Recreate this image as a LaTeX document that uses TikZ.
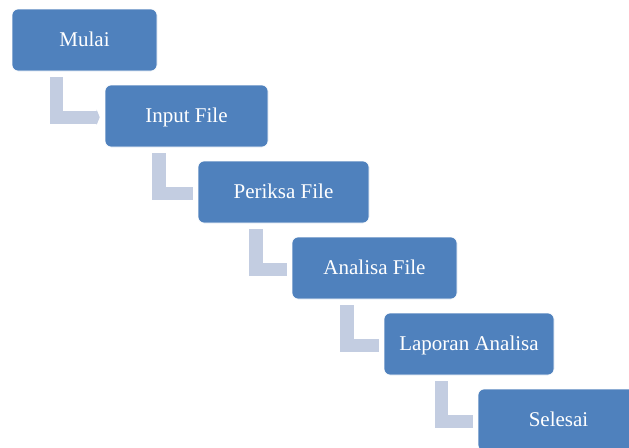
\documentclass[tikz,border=0pt]{standalone}
\usepackage{fontspec}
\setmainfont{Liberation Serif}
\usetikzlibrary{arrows.meta}
\definecolor{boxblue}{HTML}{4F81BD}
\definecolor{connblue}{HTML}{C3CDE1}
\tikzset{
  stepbox/.style={rectangle, rounded corners=6pt, fill=boxblue, draw=white, line width=0.7pt,
    minimum height=62pt, inner sep=0pt, text=white, text height=13pt, text depth=0pt,
    font=\fontsize{21pt}{24pt}\selectfont},
  conn/.style={draw=connblue, line width=13.5pt, line join=miter, line cap=butt}
}
\begin{document}
\begin{tikzpicture}[x=1pt,y=-1pt]
\clip (0,0) rectangle (629,447);
\fill[white] (0,0) rectangle (629,447);
\node[stepbox, minimum width=145pt] (b1) at (84.5,40) {Mulai};
\node[stepbox, minimum width=163pt] (b2) at (186.5,116) {Input File};
\node[stepbox, minimum width=171pt] (b3) at (283.5,192) {Periksa File};
\node[stepbox, minimum width=165pt] (b4) at (374.5,268) {Analisa File};
\node[stepbox, minimum width=170pt] (b5) at (469,344) {Laporan Analisa};
\node[stepbox, minimum width=161pt] (b6) at (558.5,420) {Selesai};
\draw[conn, -{Triangle[length=3pt,width=15pt]}, connblue] ([xshift=-28pt,yshift=-6pt]b1.south) |- ([xshift=-5pt,yshift=-1.25pt]b2.west);
\draw[conn] ([xshift=-27.5pt,yshift=-6pt]b2.south) |- ([xshift=-5pt,yshift=-1.25pt]b3.west);
\draw[conn] ([xshift=-27.5pt,yshift=-6pt]b3.south) |- ([xshift=-5pt,yshift=-1.25pt]b4.west);
\draw[conn] ([xshift=-27.5pt,yshift=-6pt]b4.south) |- ([xshift=-5pt,yshift=-1.25pt]b5.west);
\draw[conn] ([xshift=-27.5pt,yshift=-6pt]b5.south) |- ([xshift=-5pt,yshift=-1.25pt]b6.west);
\end{tikzpicture}
\end{document}
